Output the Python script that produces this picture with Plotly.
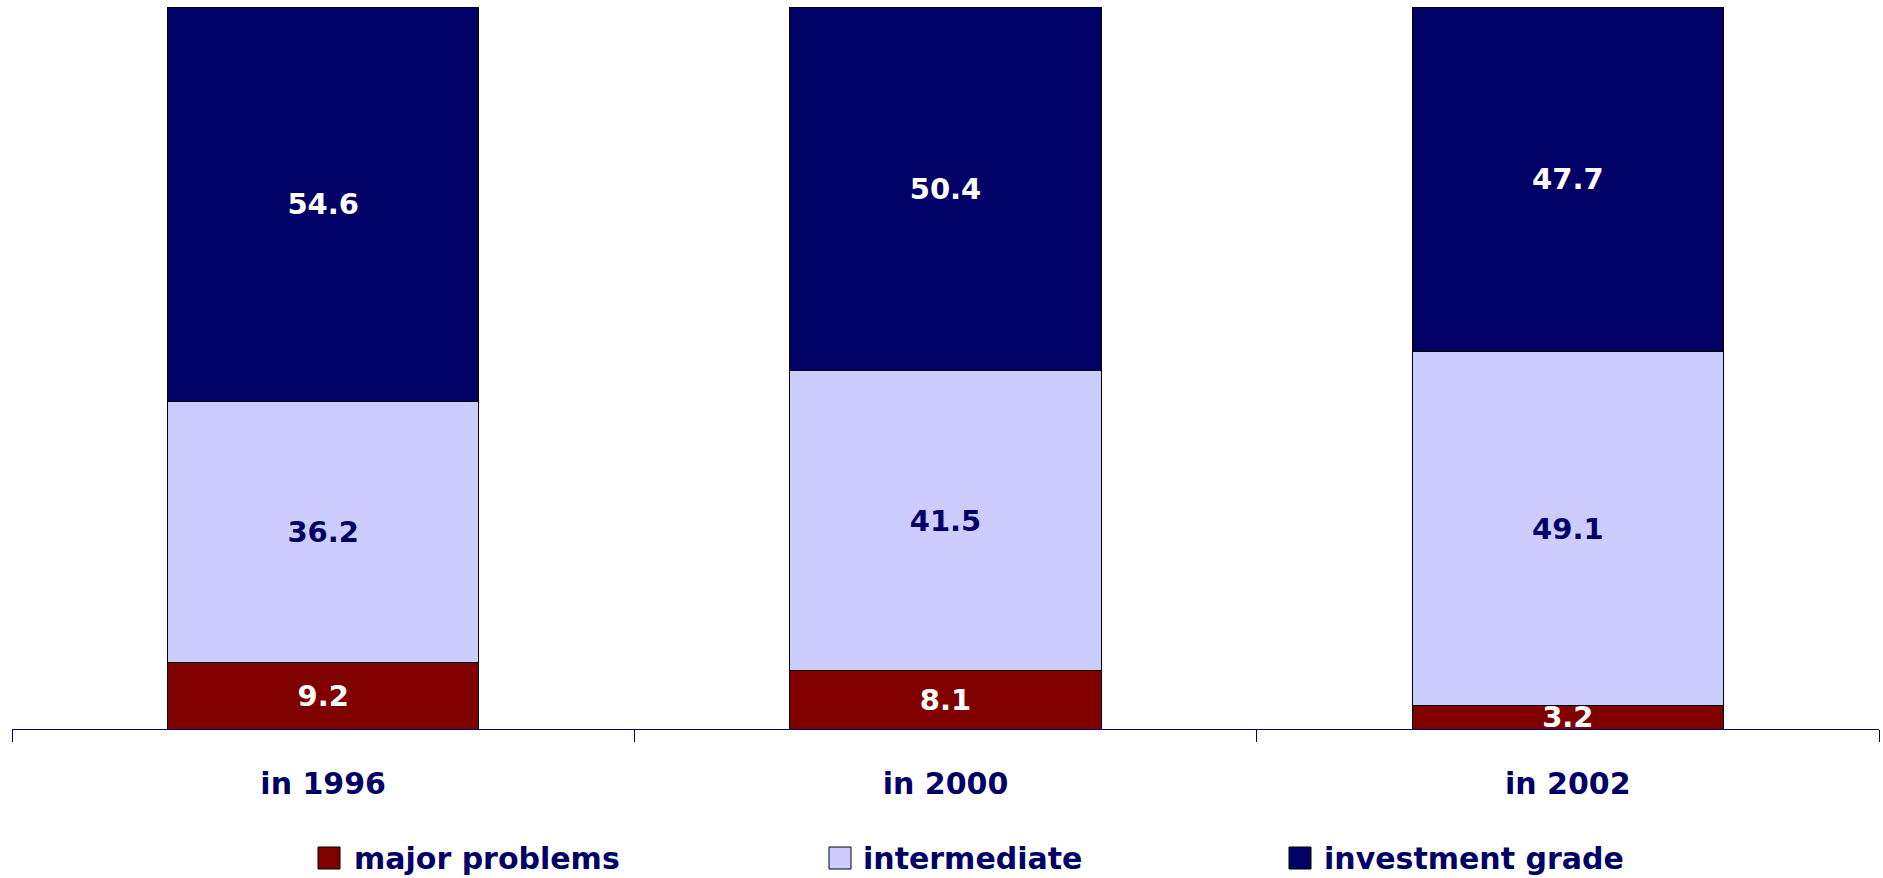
import plotly.graph_objects as go

categories = ["in 1996", "in 2000", "in 2002"]
major_problems = [9.2, 8.1, 3.2]
intermediate = [36.2, 41.5, 49.1]
investment_grade = [54.6, 50.4, 47.7]
series_names = ["major problems", "intermediate", "investment grade"]

colors = ["#800000", "#CCCCFF", "#000066"]
text_colors = ["#FFFFFF", "#000066", "#FFFFFF"]
NAVY = "#000066"
FONT = "DejaVu Sans"

W, H = 1883, 878
L, R, T, B = 12, 4, 7, 149
PW, PH = W - L - R, H - T - B

def px_x(x):
    return (x - L) / PW

def px_y(y):
    return (H - B - y) / PH

fig = go.Figure()
for name, vals, c, tc in zip(series_names, [major_problems, intermediate, investment_grade], colors, text_colors):
    fig.add_trace(go.Bar(
        x=categories, y=vals, name=name,
        marker=dict(color=c, line=dict(color="#000000", width=1)),
        text=[f"{v:.1f}" for v in vals],
        textposition="inside", insidetextanchor="middle",
        constraintext="none", textangle=0,
        textfont=dict(family=FONT, size=29, color=tc, weight="bold"),
        showlegend=False, hoverinfo="skip",
    ))

# manual legend
leg_sq_x = [318, 829, 1289]
leg_txt_x = [352, 861, 1322]
sq = 22
cy = 858
for i, name in enumerate(series_names):
    fig.add_shape(type="rect", xref="paper", yref="paper",
                  x0=px_x(leg_sq_x[i]), x1=px_x(leg_sq_x[i] + sq),
                  y0=px_y(cy + sq / 2), y1=px_y(cy - sq / 2),
                  fillcolor=colors[i], line=dict(color="#000000", width=1))
    fig.add_annotation(xref="paper", yref="paper", x=px_x(leg_txt_x[i]), y=px_y(cy),
                       xanchor="left", yanchor="middle", text=name, showarrow=False,
                       font=dict(family=FONT, size=30, color=NAVY, weight="bold"))

fig.update_layout(
    width=W, height=H,
    margin=dict(l=L, r=R, t=T, b=B),
    barmode="stack", bargap=0.5,
    plot_bgcolor="white", paper_bgcolor="white",
    showlegend=False,
    xaxis=dict(
        showline=True, linecolor=NAVY, linewidth=1,
        ticks="outside", tickson="boundaries", ticklen=12, tickcolor=NAVY, tickwidth=1,
        tickfont=dict(family=FONT, size=30, color=NAVY, weight="bold"),
        ticklabelstandoff=28,
        showgrid=False, fixedrange=True,
    ),
    yaxis=dict(range=[0, 100], visible=False, showgrid=False, fixedrange=True),
)

fig.write_html(
    "out.html",
    config={"displayModeBar": False},
    post_script="document.body.style.margin='0';document.body.style.overflow='hidden';",
)
